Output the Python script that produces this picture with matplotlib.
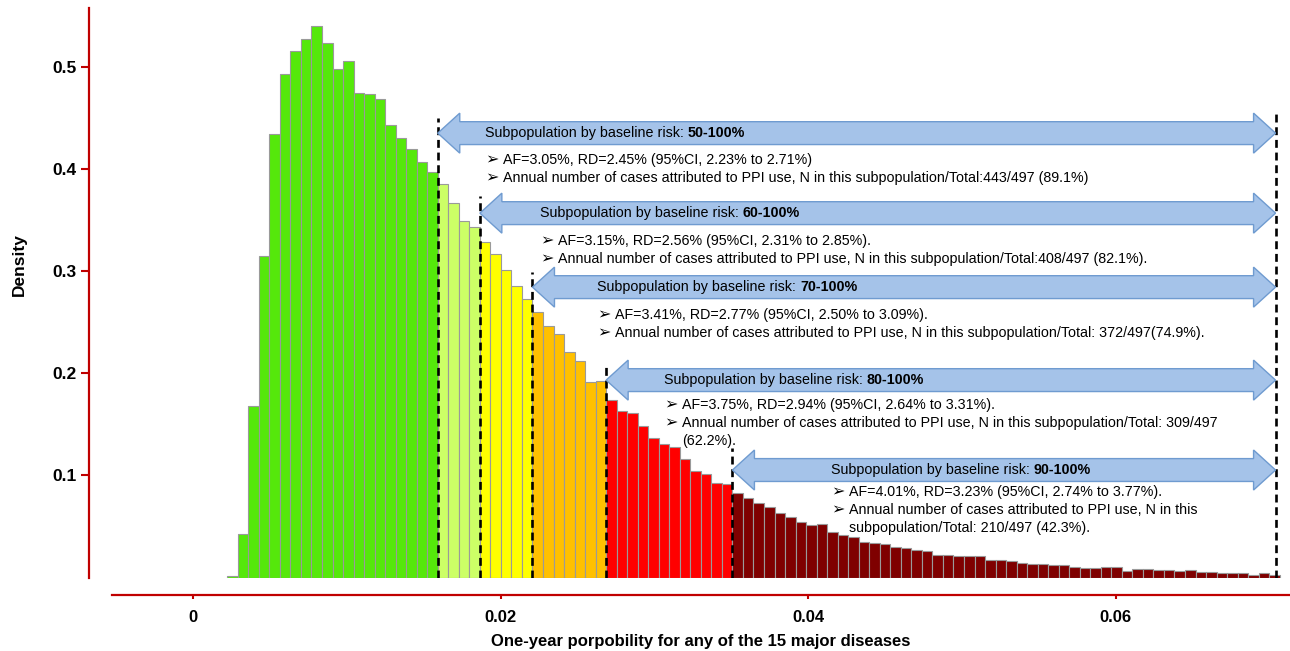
import numpy as np
import matplotlib
matplotlib.use('Agg')
import matplotlib.pyplot as plt
from matplotlib.patches import Polygon

plt.rcParams['font.family'] = ['Liberation Sans', 'DejaVu Sans']

# histogram of the one-year probability, 100 equal bins
bin_start = 0.00221
bin_width = 0.0006846
density = [
    0.001, 0.043, 0.168, 0.315, 0.435, 0.493, 0.516, 0.528, 0.540, 0.524,
    0.498, 0.506, 0.475, 0.474, 0.469, 0.443, 0.431, 0.420, 0.407, 0.397,
    0.386, 0.367, 0.349, 0.343,
    0.329, 0.317, 0.301, 0.286, 0.273,
    0.260, 0.246, 0.239, 0.221, 0.212, 0.192, 0.193,
    0.174, 0.163, 0.161, 0.148, 0.137, 0.131, 0.128, 0.116, 0.104, 0.101, 0.093, 0.092,
    0.0826, 0.0775, 0.0728, 0.0690, 0.0633, 0.0589, 0.0541, 0.0516, 0.0525, 0.0443,
    0.0421, 0.0399, 0.0352, 0.0342, 0.0326, 0.0295, 0.0285, 0.0272, 0.0263, 0.0222,
    0.0222, 0.0206, 0.0206, 0.0206, 0.0168, 0.0174,
    0.0159, 0.0144, 0.0135, 0.0135, 0.0126, 0.0119, 0.0104, 0.0095, 0.0095, 0.0104,
    0.0104, 0.0067, 0.0080, 0.0086, 0.0073, 0.0073, 0.0067, 0.0073, 0.0049, 0.0058,
    0.0040, 0.0046, 0.0040, 0.0028, 0.0040, 0.0021,
]

# first bin of each baseline-risk group (0-50, 50-60, 60-70, 70-80, 80-90, 90-100%)
group_start = [0, 20, 24, 29, 36, 48]
group_colors = ['#55E80B', '#CCFF66', '#FFFF00', '#FFC000', '#FF0000', '#7F0000']
x_end = 0.0704

sub_labels = ['50-100%', '60-100%', '70-100%', '80-100%', '90-100%']
af_text = [
    'AF=3.05%, RD=2.45% (95%CI, 2.23% to 2.71%)',
    'AF=3.15%, RD=2.56% (95%CI, 2.31% to 2.85%).',
    'AF=3.41%, RD=2.77% (95%CI, 2.50% to 3.09%).',
    'AF=3.75%, RD=2.94% (95%CI, 2.64% to 3.31%).',
    'AF=4.01%, RD=3.23% (95%CI, 2.74% to 3.77%).',
]
n_text = [
    'Annual number of cases attributed to PPI use, N in this subpopulation/Total:443/497 (89.1%)',
    'Annual number of cases attributed to PPI use, N in this subpopulation/Total:408/497 (82.1%).',
    'Annual number of cases attributed to PPI use, N in this subpopulation/Total: 372/497(74.9%).',
    'Annual number of cases attributed to PPI use, N in this subpopulation/Total: 309/497\n(62.2%).',
    'Annual number of cases attributed to PPI use, N in this\nsubpopulation/Total: 210/497 (42.3%).',
]

# annotation layout (data units)
arrow_y = [0.4354, 0.357, 0.2845, 0.1934, 0.1053]
line_top = [0.450, 0.374, 0.299, 0.208, 0.127]
text_x = [0.01897, 0.02255, 0.02626, 0.03060, 0.04148]
bullet_y = [0.4089, 0.3296, 0.2571, 0.1690, 0.0837]

edges = bin_start + bin_width * np.arange(len(density) + 1)
colors = []
for g, start in enumerate(group_start):
    stop = group_start[g + 1] if g + 1 < len(group_start) else len(density)
    colors += [group_colors[g]] * (stop - start)

fig = plt.figure(figsize=(12.9, 6.51), dpi=100)
ax = fig.add_axes([112 / 1290, (651 - 577.5) / 651, 1178 / 1290, (577.5 - 8) / 651])
ax.set_xlim(-0.00529, 0.07134)
ax.set_ylim(0, 0.558)

ax.bar(edges[:-1], density, width=bin_width, align='edge', color=colors,
       edgecolor='#9a9a9a', linewidth=0.8, zorder=2)

# dashed cut lines
cut_x = [edges[s] for s in group_start[1:]]
ax.vlines(cut_x, 0, line_top, colors='k', linestyles=(0, (3, 1.8)), linewidth=1.9, zorder=3)
ax.vlines([x_end], 0, 0.455, colors='k', linestyles=(0, (3, 1.8)), linewidth=1.9, zorder=3)

# double-headed block arrows
hl, hh, sh = 0.00143, 0.0196, 0.0112
dx_text = 0.00117
dy_line = 0.0176
for i, x0 in enumerate(cut_x):
    y = arrow_y[i]
    x1 = x_end
    verts = [(x0, y), (x0 + hl, y + hh), (x0 + hl, y + sh), (x1 - hl, y + sh),
             (x1 - hl, y + hh), (x1, y), (x1 - hl, y - hh), (x1 - hl, y - sh),
             (x0 + hl, y - sh), (x0 + hl, y - hh)]
    ax.add_patch(Polygon(verts, closed=True, facecolor='#A5C3E9', edgecolor='#6F9BD0',
                         linewidth=1, zorder=4))
    t = ax.text(text_x[i], y, 'Subpopulation by baseline risk: ', fontsize=10.3,
                va='center', ha='left', zorder=5)
    ax.annotate(sub_labels[i], xy=(1, 0.5), xycoords=t, fontsize=10.3, fontweight='bold',
                va='center', ha='left', zorder=5)

    lines = [(True, af_text[i])]
    for k, part in enumerate(n_text[i].split('\n')):
        lines.append((k == 0, part))
    yy = bullet_y[i]
    for has_bullet, s in lines:
        if has_bullet:
            ax.text(text_x[i], yy, '\u27a2', fontsize=11.5, family=['DejaVu Sans'],
                    va='center', ha='left', zorder=5)
        ax.text(text_x[i] + dx_text, yy, s, fontsize=10.3, va='center', ha='left', zorder=5)
        yy -= dy_line

# axes styling
red = '#C00000'
for side in ['top', 'right']:
    ax.spines[side].set_visible(False)
ax.spines['left'].set_position(('outward', 16.6))
ax.spines['bottom'].set_position(('outward', 12.6))
for side in ['left', 'bottom']:
    ax.spines[side].set_color(red)
    ax.spines[side].set_linewidth(1.6)

ax.set_yticks([0.1, 0.2, 0.3, 0.4, 0.5])
ax.set_yticklabels(['0.1', '0.2', '0.3', '0.4', '0.5'])
ax.set_xticks([0, 0.02, 0.04, 0.06])
ax.set_xticklabels(['0', '0.02', '0.04', '0.06'])
ax.tick_params(axis='y', direction='out', length=6, width=1.5, color=red, pad=3, labelsize=12.5)
ax.tick_params(axis='x', direction='out', length=3, width=1.5, color=red, pad=8, labelsize=12)
for lab in ax.get_xticklabels() + ax.get_yticklabels():
    lab.set_fontweight('bold')

ax.set_xlabel('One-year porpobility for any of the 15 major diseases', fontsize=12,
              fontweight='bold', labelpad=6)
ax.set_ylabel('Density', fontsize=12.5, fontweight='bold')
ax.yaxis.set_label_coords(-0.072, 0.549)

fig.savefig('out.png', dpi=100)
